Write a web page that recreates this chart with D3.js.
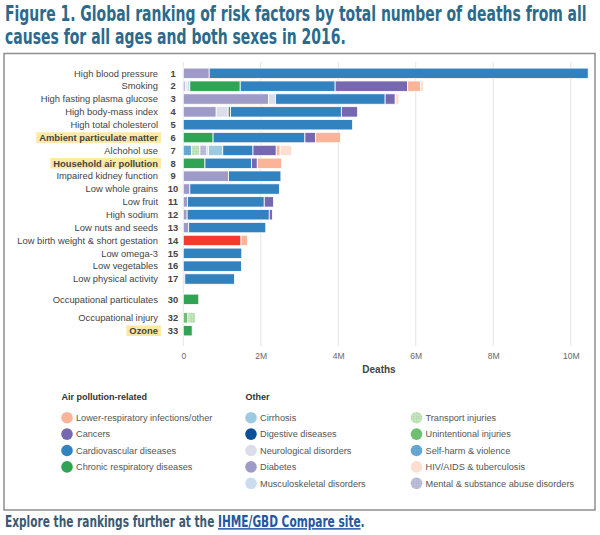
<!DOCTYPE html>
<html>
<head>
<meta charset="utf-8">
<script src="https://cdn.jsdelivr.net/npm/d3@7"></script>
<style>
  body { margin: 0; background: #fff; }
  svg text { font-family: "Liberation Sans", Arial, sans-serif; }
  .cond { font-family: "Liberation Sans Narrow", "DejaVu Sans Condensed", "Arial Narrow", sans-serif; font-weight: bold; }
</style>
</head>
<body>
<svg id="chart" width="600" height="535"></svg>
<script>
// risk factors, top to bottom
var risks = ["High blood pressure", "Smoking", "High fasting plasma glucose", "High body-mass index",
  "High total cholesterol", "Ambient particulate matter", "Alchohol use", "Household air pollution",
  "Impaired kidney function", "Low whole grains", "Low fruit", "High sodium", "Low nuts and seeds",
  "Low birth weight & short gestation", "Low omega-3", "Low vegetables", "Low physical activity",
  "Occupational particulates", "Occupational injury", "Ozone"];
var ranks = [1, 2, 3, 4, 5, 6, 7, 8, 9, 10, 11, 12, 13, 14, 15, 16, 17, 30, 32, 33];
var highlighted = ["Ambient particulate matter", "Household air pollution", "Ozone"];

// deaths in millions, one array per cause, same order as risks
var unintentional = [0, 0, 0, 0, 0, 0, 0, 0, 0, 0, 0, 0, 0, 0, 0, 0, 0, 0, 0.12, 0];
var selfHarm      = [0, 0, 0, 0, 0, 0, 0.21, 0, 0, 0, 0, 0, 0, 0, 0, 0, 0, 0, 0, 0];
var transport     = [0, 0, 0, 0, 0, 0, 0.22, 0, 0, 0, 0, 0, 0, 0, 0, 0, 0, 0, 0.20, 0];
var mental        = [0, 0, 0, 0, 0, 0, 0.18, 0, 0, 0, 0, 0, 0, 0, 0, 0, 0, 0, 0, 0];
var diabetes      = [0.67, 0.05, 2.20, 0.85, 0, 0, 0, 0, 1.17, 0.17, 0.11, 0.10, 0.14, 0, 0, 0, 0.04, 0, 0, 0];
var neuro         = [0, 0.05, 0.18, 0.31, 0, 0, 0, 0, 0, 0, 0, 0, 0, 0, 0, 0, 0, 0, 0, 0];
var musculo       = [0, 0.07, 0, 0, 0, 0, 0.04, 0, 0, 0, 0, 0, 0, 0, 0, 0, 0, 0, 0, 0];
var cirrhosis     = [0, 0, 0, 0, 0, 0, 0.37, 0, 0, 0, 0, 0, 0, 0, 0, 0, 0, 0, 0, 0];
var chronicResp   = [0, 1.30, 0, 0.06, 0, 0.77, 0, 0.56, 0, 0, 0, 0, 0, 0, 0, 0, 0, 0.40, 0, 0.23];
var cardio        = [9.78, 2.45, 2.83, 2.86, 4.37, 2.37, 0.78, 1.20, 1.35, 2.31, 1.98, 2.12, 1.99, 0, 1.51, 1.50, 1.28, 0, 0, 0];
var cancers       = [0, 1.87, 0.26, 0.42, 0, 0.27, 0.60, 0.15, 0, 0, 0.24, 0.08, 0, 0, 0, 0, 0, 0, 0, 0];
var neonatal      = [0, 0, 0, 0, 0, 0, 0, 0, 0, 0, 0, 0, 0, 1.49, 0, 0, 0, 0, 0, 0];
var lri           = [0, 0.33, 0, 0, 0, 0.65, 0.10, 0.63, 0, 0, 0, 0, 0, 0.17, 0, 0, 0, 0, 0, 0];
var hiv           = [0, 0.08, 0.10, 0, 0, 0, 0.30, 0, 0, 0, 0, 0, 0, 0, 0, 0, 0, 0, 0, 0];

var xTicks = [0, 2, 4, 6, 8, 10];

var legendAir = ["Lower-respiratory infections/other", "Cancers", "Cardiovascular diseases", "Chronic respiratory diseases"];
var legendOther1 = ["Cirrhosis", "Digestive diseases", "Neurological disorders", "Diabetes", "Musculoskeletal disorders"];
var legendOther2 = ["Transport injuries", "Unintentional injuries", "Self-harm & violence", "HIV/AIDS & tuberculosis", "Mental & substance abuse disorders"];

// stack order, left to right
var series = [
  ["Unintentional injuries", unintentional],
  ["Self-harm & violence", selfHarm],
  ["Transport injuries", transport],
  ["Mental & substance abuse disorders", mental],
  ["Diabetes", diabetes],
  ["Neurological disorders", neuro],
  ["Musculoskeletal disorders", musculo],
  ["Cirrhosis", cirrhosis],
  ["Chronic respiratory diseases", chronicResp],
  ["Cardiovascular diseases", cardio],
  ["Cancers", cancers],
  ["Neonatal disorders", neonatal],
  ["Lower-respiratory infections/other", lri],
  ["HIV/AIDS & tuberculosis", hiv]
];

var color = d3.scaleOrdinal()
  .domain(["Lower-respiratory infections/other", "Cancers", "Cardiovascular diseases", "Chronic respiratory diseases",
    "Cirrhosis", "Digestive diseases", "Neurological disorders", "Diabetes", "Musculoskeletal disorders",
    "Transport injuries", "Unintentional injuries", "Self-harm & violence", "HIV/AIDS & tuberculosis",
    "Mental & substance abuse disorders", "Neonatal disorders"])
  .range(["#fcb499", "#7668b0", "#3282bf", "#31a354",
    "#9ecae1", "#0a4f9a", "#dcdcec", "#9f9bc9", "#c9dcf0",
    "#c3e7bd", "#6cc06f", "#66abd8", "#fddfd2",
    "#bebedd", "#f03b2e"]);
var dotted = ["Self-harm & violence", "Transport injuries", "Mental & substance abuse disorders"];

function fillFor(k) {
  return dotted.indexOf(k) >= 0 ? "url(#pat" + dotted.indexOf(k) + ")" : color(k);
}

// squeeze a text horizontally so it spans the given width
function fitWidth(sel, x0, y0, w) {
  var natural = sel.node().getComputedTextLength();
  sel.attr("x", 0).attr("y", 0)
    .attr("transform", "translate(" + x0 + "," + y0 + ") scale(" + (w / natural) + ",1)");
}

var svg = d3.select("#chart");

// dotted textures
var defs = svg.append("defs");
dotted.forEach(function(k, i) {
  var p = defs.append("pattern").attr("id", "pat" + i)
    .attr("width", 2.5).attr("height", 2.5).attr("patternUnits", "userSpaceOnUse");
  p.append("rect").attr("width", 2.5).attr("height", 2.5).attr("fill", color(k));
  p.append("circle").attr("cx", 1.25).attr("cy", 1.25).attr("r", 0.55)
    .attr("fill", d3.color(color(k)).darker(0.5));
});

// title
var titleLines = ["Figure 1. Global ranking of risk factors by total number of deaths from all",
  "causes for all ages and both sexes in 2016."];
var titleWidths = [582, 341];
titleLines.forEach(function(line, i) {
  var t = svg.append("text")
    .attr("class", "cond")
    .attr("font-size", 21)
    .attr("fill", "#2b6a8c")
    .text(line);
  fitWidth(t, 5, 21 + i * 23, titleWidths[i]);
});

// frame
svg.append("rect")
  .attr("x", 4).attr("y", 53.5).attr("width", 591).attr("height", 456.5)
  .attr("fill", "none").attr("stroke", "#8e8e8e").attr("stroke-width", 1.5);

// scales
var x = d3.scaleLinear().domain([0, 10]).range([183.25, 570.75]);

// rows 1-17 are evenly spaced, then a bit of air before 30 and 32
function slot(i) {
  var s = i;
  if (ranks[i] > 17) s += 0.58;
  if (ranks[i] > 30) s += 0.44;
  return s;
}
var y = d3.scaleLinear().domain([0, slot(risks.length - 1)]).range([73.3, 330.7]);
var barH = 10.4;

// grid
svg.append("g").selectAll("line").data(xTicks).enter().append("line")
  .attr("x1", function(d) { return x(d); })
  .attr("x2", function(d) { return x(d); })
  .attr("y1", 62).attr("y2", 346)
  .attr("stroke", "#e3e3e3").attr("stroke-width", 1);

// bars
var rows = risks.map(function(r, i) {
  var o = { risk: r, i: i };
  series.forEach(function(s) { o[s[0]] = s[1][i]; });
  return o;
});
var stacked = d3.stack().keys(series.map(function(s) { return s[0]; }))(rows);

var bars = svg.append("g");
stacked.forEach(function(layer) {
  bars.selectAll(null)
    .data(layer.filter(function(d) { return d[1] - d[0] > 0; }))
    .enter().append("rect")
    .attr("x", function(d) { return x(d[0]); })
    .attr("y", function(d) { return y(slot(d.data.i)) - barH / 2; })
    .attr("width", function(d) { return x(d[1]) - x(d[0]); })
    .attr("height", barH)
    .attr("fill", fillFor(layer.key))
    .attr("stroke", "#fff")
    .attr("stroke-width", 0.8);
});

// row labels
var labels = svg.append("g");
risks.forEach(function(r, i) {
  var yy = y(slot(i));
  var isHi = highlighted.indexOf(r) >= 0;
  var t = labels.append("text")
    .attr("x", 158).attr("y", yy + 3.3)
    .attr("text-anchor", "end")
    .attr("font-size", 9.4)
    .attr("font-weight", isHi ? "bold" : "normal")
    .attr("fill", "#444")
    .text(r);
  if (isHi) {
    var bb = t.node().getBBox();
    labels.insert("rect", function() { return t.node(); })
      .attr("x", bb.x - 3).attr("y", yy - 5.3)
      .attr("width", 161 - (bb.x - 3)).attr("height", 10.6)
      .attr("fill", "#fde9a4");
  }
  labels.append("text")
    .attr("x", 173).attr("y", yy + 3.3)
    .attr("text-anchor", "middle")
    .attr("font-size", 9.4)
    .attr("font-weight", "bold")
    .attr("fill", "#444")
    .text(ranks[i]);
});

// x axis
var xAxis = d3.axisBottom(x).tickValues(xTicks).tickSize(0)
  .tickFormat(function(d) { return d === 0 ? "0" : d + "M"; });
var ax = svg.append("g").attr("transform", "translate(0,350)").call(xAxis);
ax.select(".domain").remove();
ax.selectAll("text").attr("font-size", 8.5).attr("fill", "#666")
  .attr("font-family", "'Liberation Sans', Arial, sans-serif");
svg.append("text")
  .attr("x", 379).attr("y", 373)
  .attr("text-anchor", "middle")
  .attr("font-size", 10).attr("font-weight", "bold").attr("fill", "#444")
  .text("Deaths");

// legend
var legendCols = [
  { head: "Air pollution-related", items: legendAir, cx: 67 },
  { head: "Other", items: legendOther1, cx: 251 },
  { head: "", items: legendOther2, cx: 416.5 }
];
var lg = svg.append("g");
legendCols.forEach(function(col) {
  if (col.head) {
    lg.append("text")
      .attr("x", col.cx - 5.5).attr("y", 400)
      .attr("font-size", 9).attr("font-weight", "bold").attr("fill", "#333")
      .text(col.head);
  }
  col.items.forEach(function(k, j) {
    var cy = 417.7 + j * 16.4;
    lg.append("circle")
      .attr("cx", col.cx).attr("cy", cy).attr("r", 5.8)
      .attr("fill", fillFor(k));
    lg.append("text")
      .attr("x", col.cx + 9).attr("y", cy + 3.2)
      .attr("font-size", 9.2).attr("fill", "#555")
      .text(k);
  });
});

// footer
var foot = svg.append("text")
  .attr("class", "cond")
  .attr("font-size", 15)
  .attr("fill", "#3b5a72");
foot.append("tspan").text("Explore the rankings further at the ");
foot.append("tspan").attr("fill", "#2456a6").attr("text-decoration", "underline").text("IHME/GBD Compare site");
foot.append("tspan").text(".");
fitWidth(foot, 5, 527, 360);
</script>
</body>
</html>
